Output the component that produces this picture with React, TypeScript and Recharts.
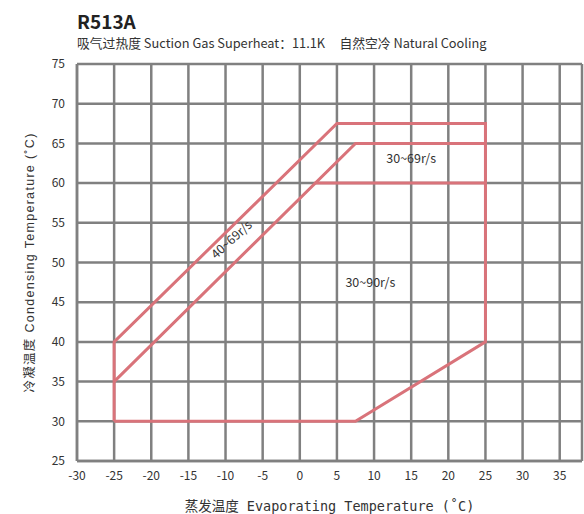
import { CartesianGrid, Label, Line, LineChart, XAxis, YAxis } from 'recharts';

// envelope outline (evaporating °C, condensing °C)
const outerEnvelope = [
  { x: -25, y: 30 },
  { x: -25, y: 40 },
  { x: 5, y: 67.5 },
  { x: 25, y: 67.5 },
  { x: 25, y: 40 },
  { x: 7.5, y: 30 },
  { x: -25, y: 30 },
];
const innerLine40to69 = [
  { x: -25, y: 35 },
  { x: 7.5, y: 65 },
  { x: 25, y: 65 },
];
const innerLine30to69 = [
  { x: 2, y: 60 },
  { x: 25, y: 60 },
];
const xTicks = [-30, -25, -20, -15, -10, -5, 0, 5, 10, 15, 20, 25, 30, 35];
const yTicks = [25, 30, 35, 40, 45, 50, 55, 60, 65, 70, 75];
const zoneLabels = [
  { x: 15, y: 63.2, text: '30~69r/s', angle: 0 },
  { x: 9.5, y: 47.6, text: '30~90r/s', angle: 0 },
  { x: -9.3, y: 53, text: '40~69r/s', angle: -42 },
];

const RED = '#d9737a';
const GRID = '#808080';
const cjk = '"Noto Sans CJK SC", "Open Sans", sans-serif';

export default function App() {
  return (
    <div style={{ position: 'absolute', left: 0, top: 0, width: 584, height: 514, background: '#fff', fontFamily: cjk }}>
      <div style={{ position: 'absolute', left: 77, top: 7, fontSize: 19, fontWeight: 700, color: '#222' }}>R513A</div>
      <div style={{ position: 'absolute', left: 77, top: 33, fontSize: 12.8, color: '#333' }}>
        吸气过热度 Suction Gas Superheat：11.1K&nbsp;&nbsp;&nbsp;&nbsp;&nbsp;自然空冷 Natural Cooling
      </div>
      <LineChart width={584} height={514} margin={{ top: 64, right: 2, bottom: 23, left: 37 }}>
        <CartesianGrid stroke={GRID} strokeWidth={2.5} />
        <XAxis
          type="number"
          dataKey="x"
          domain={[-30, 38]}
          ticks={xTicks}
          allowDuplicatedCategory={false}
          axisLine={{ stroke: GRID, strokeWidth: 2.5 }}
          tickLine={false}
          height={30}
          tick={{ fill: '#333', fontSize: 12, fontFamily: cjk }}
          tickMargin={4}
        >
          <Label
            value="蒸发温度 Evaporating Temperature (˚C)"
            position="insideBottom"
            offset={-20}
            style={{ fill: '#333', fontSize: 13.5, fontFamily: '"DejaVu Sans Mono", "Noto Sans CJK SC", monospace' }}
          />
        </XAxis>
        <YAxis
          type="number"
          dataKey="y"
          domain={[25, 75]}
          ticks={yTicks}
          axisLine={{ stroke: GRID, strokeWidth: 2.5 }}
          tickLine={false}
          width={40}
          tick={{ fill: '#333', fontSize: 12, fontFamily: cjk }}
          tickMargin={6}
        >
          <Label
            value="冷凝温度 Condensing Temperature (˚C)"
            angle={-90}
            position="insideLeft"
            offset={-7}
            style={{ textAnchor: 'middle', fill: '#333', fontSize: 12.5, letterSpacing: 1.3, fontFamily: '"Liberation Sans", "Noto Sans CJK SC", sans-serif' }}
          />
        </YAxis>
        <Line data={outerEnvelope} dataKey="y" type="linear" stroke={RED} strokeWidth={3} dot={false} isAnimationActive={false} />
        <Line data={innerLine40to69} dataKey="y" type="linear" stroke={RED} strokeWidth={3} dot={false} isAnimationActive={false} />
        <Line data={innerLine30to69} dataKey="y" type="linear" stroke={RED} strokeWidth={3} dot={false} isAnimationActive={false} />
        <Line
          data={zoneLabels}
          dataKey="y"
          stroke="none"
          isAnimationActive={false}
          dot={(p: any) => {
            const d = zoneLabels[p.index];
            return (
              <text
                key={p.index}
                x={p.cx}
                y={p.cy}
                textAnchor="middle"
                dominantBaseline="central"
                fontSize={12.5}
                fill="#333"
                fontFamily={cjk}
                transform={`rotate(${d.angle} ${p.cx} ${p.cy})`}
              >
                {d.text}
              </text>
            );
          }}
        />
      </LineChart>
    </div>
  );
}
